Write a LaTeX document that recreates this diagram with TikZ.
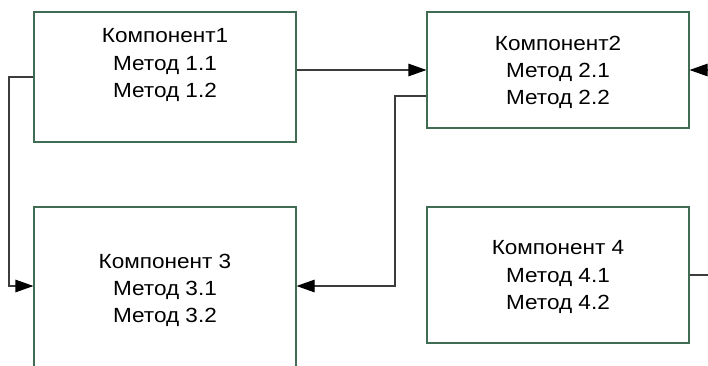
\documentclass[tikz,border=0pt]{standalone}
\usepackage{fontspec}
\setmainfont[FakeStretch=1.1]{Liberation Sans}
\usetikzlibrary{arrows.meta}
\definecolor{boxline}{RGB}{64,108,84}
\definecolor{conline}{RGB}{60,60,60}
\tikzset{
  comp/.style={draw=boxline, line width=1.1pt, fill=none, inner sep=0pt, minimum width=262pt},
  ctext/.style={align=center, inner sep=0pt, anchor=north, font=\fontsize{20.5}{27.3}\selectfont},
  conn/.style={draw=conline, line width=1.1pt},
  arr/.style={conn, -{Triangle[length=18pt,width=12.5pt,color=black]}}
}
\begin{document}
\begin{tikzpicture}[x=1pt,y=1pt]
\path[use as bounding box] (0,0) rectangle (708,-365);
\clip (0,0) rectangle (708,-365);
% boxes
\node[comp, minimum height=130pt] (b1) at (165,-77) {};
\node[comp, minimum height=116pt] (b2) at (558,-70) {};
\node[comp, minimum height=190pt] (b3) at (165,-302) {};
\node[comp, minimum height=136pt] (b4) at (558,-275) {};
% texts
\node[ctext] (t1) at (165,-28.5) {Компонент1\\Метод 1.1\\Метод 1.2};
\node[ctext] (t2) at (558,-35.5) {Компонент2\\Метод 2.1\\Метод 2.2};
\node[ctext] (t3) at (165,-253.5) {Компонент 3\\Метод 3.1\\Метод 3.2};
\node[ctext] (t4) at (558,-240.5) {Компонент 4\\Метод 4.1\\Метод 4.2};
% helper coordinates
\coordinate (l1) at (9,0);
\coordinate (l2) at (395,0);
\coordinate (rin) at (720,-70);
\coordinate (rout) at (720,-275);
% connectors
\draw[arr] (b1.west |- 0,-77) -| (l1 |- 0,-150) |- (b3.west |- 0,-286);
\draw[arr] (b1.east |- 0,-70) -- (b2.west |- 0,-70);
\draw[arr] (b2.west |- 0,-96) -| (l2 |- 0,-150) |- (b3.east |- 0,-286);
\draw[arr] (rin) -- (b2.east |- rin);
\draw[conn] (b4.east |- rout) -- (rout);
\end{tikzpicture}
\end{document}
